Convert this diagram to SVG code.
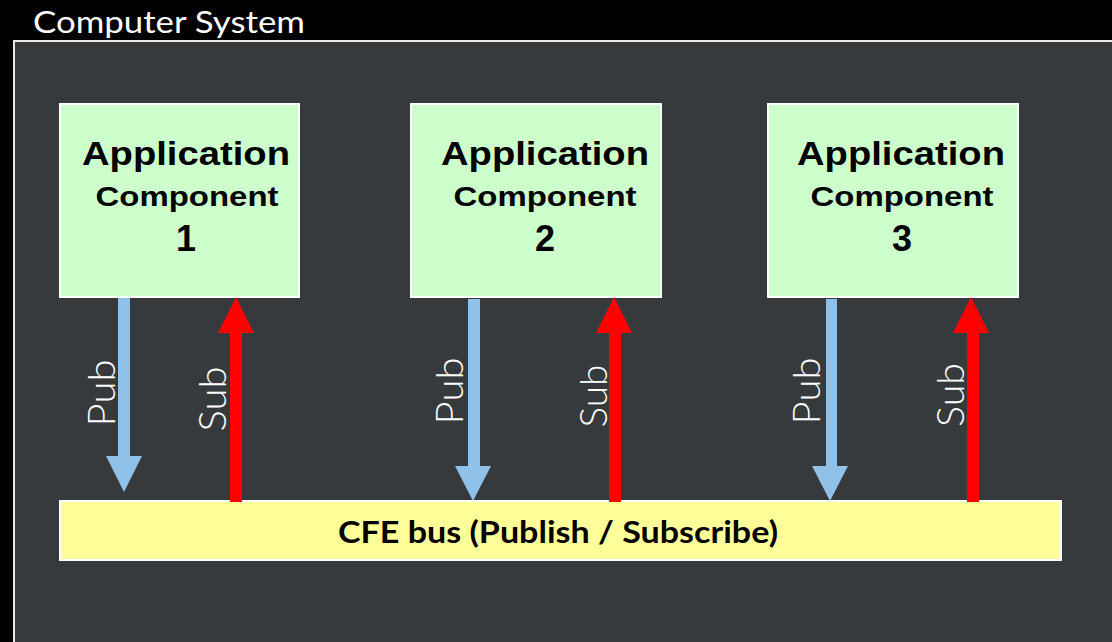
<svg xmlns="http://www.w3.org/2000/svg" width="1112" height="642" viewBox="0 0 1112 642">
<style>
.app{fill:#ccffcc;stroke:#ffffff;stroke-width:2}
.bus{fill:#ffff99;stroke:#ffffff;stroke-width:2}
.t1{font-family:"Liberation Sans",Arial,sans-serif;font-weight:bold;fill:#000;text-anchor:middle}
.lbl{font-family:Lato,"Open Sans",sans-serif;font-weight:300;font-size:38px;fill:#ffffff;text-anchor:middle}
.pub{fill:#8fc1e9}
.sub{fill:#ff0000}
</style>
<rect x="0" y="0" width="1112" height="642" fill="#000000"/>
<g id="system">
<rect x="14" y="41" width="1110" height="612" fill="#373a3d" stroke="#e8e8e8" stroke-width="2"/>
<text x="33" y="33" font-family="Lato,'Open Sans',sans-serif" font-size="30" fill="#ffffff" textLength="272" lengthAdjust="spacingAndGlyphs">Computer System</text>
</g>
<g id="app1">
<rect class="app" x="60" y="104" width="239" height="193"/>
<text class="t1" x="186" y="165" font-size="33" textLength="208" lengthAdjust="spacingAndGlyphs">Application</text>
<text class="t1" x="187" y="206" font-size="27" textLength="183" lengthAdjust="spacingAndGlyphs">Component</text>
<text class="t1" x="186" y="251" font-size="36">1</text>
</g>
<g id="app2">
<rect class="app" x="411" y="104" width="250" height="193"/>
<text class="t1" x="545" y="165" font-size="33" textLength="208" lengthAdjust="spacingAndGlyphs">Application</text>
<text class="t1" x="545" y="206" font-size="27" textLength="183" lengthAdjust="spacingAndGlyphs">Component</text>
<text class="t1" x="545" y="251" font-size="36">2</text>
</g>
<g id="app3">
<rect class="app" x="768" y="104" width="250" height="193"/>
<text class="t1" x="901" y="165" font-size="33" textLength="208" lengthAdjust="spacingAndGlyphs">Application</text>
<text class="t1" x="902" y="206" font-size="27" textLength="183" lengthAdjust="spacingAndGlyphs">Component</text>
<text class="t1" x="902" y="251" font-size="36">3</text>
</g>
<g id="bus">
<rect class="bus" x="60" y="501" width="1001" height="59"/>
<text x="558" y="543" font-family="Lato,'Open Sans',sans-serif" font-weight="bold" font-size="31" fill="#000" text-anchor="middle" textLength="440" lengthAdjust="spacingAndGlyphs">CFE bus (Publish / Subscribe)</text>
</g>
<g id="connectors">
<polygon class="pub" points="118,298 130,298 130,456 142,456 124,492 106,456 118,456"/>
<polygon class="sub" points="230,502 242,502 242,333 254,333 236,297 218,333 230,333"/>
<polygon class="pub" points="468,299 480,299 480,466 491,466 473,501 455,466 468,466"/>
<polygon class="sub" points="609,502 621,502 621,333 632,333 614,297 596,333 609,333"/>
<polygon class="pub" points="826,299 837,299 837,466 848,466 830,501 812,466 826,466"/>
<polygon class="sub" points="967,502 979,502 979,333 989,333 971,297 953,333 967,333"/>
<text class="lbl" transform="translate(115,393) rotate(-90)" textLength="67" lengthAdjust="spacingAndGlyphs">Pub</text>
<text class="lbl" transform="translate(226,399) rotate(-90)" textLength="65" lengthAdjust="spacingAndGlyphs">Sub</text>
<text class="lbl" transform="translate(463,391) rotate(-90)" textLength="67" lengthAdjust="spacingAndGlyphs">Pub</text>
<text class="lbl" transform="translate(607,396) rotate(-90)" textLength="63" lengthAdjust="spacingAndGlyphs">Sub</text>
<text class="lbl" transform="translate(820,391) rotate(-90)" textLength="67" lengthAdjust="spacingAndGlyphs">Pub</text>
<text class="lbl" transform="translate(964,395) rotate(-90)" textLength="64" lengthAdjust="spacingAndGlyphs">Sub</text>
</g>
</svg>
